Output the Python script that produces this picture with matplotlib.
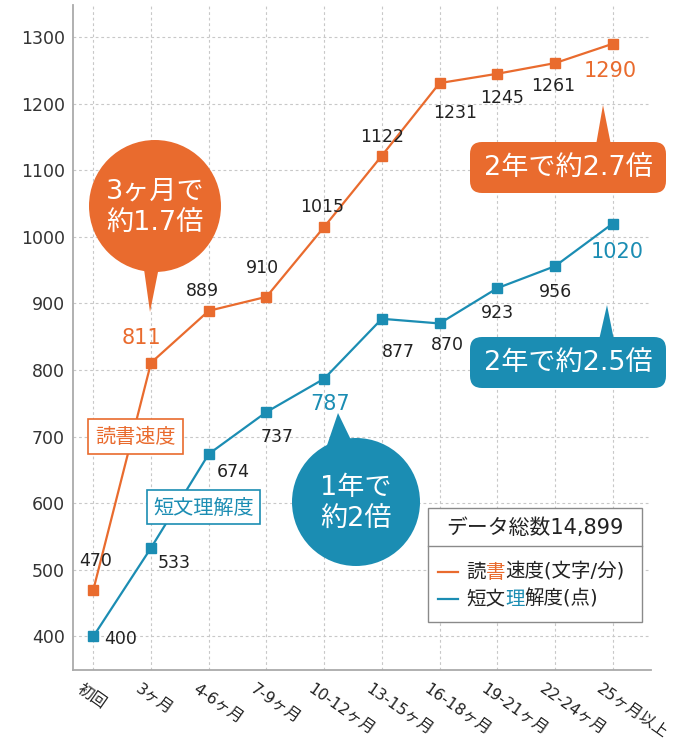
import matplotlib
matplotlib.use("Agg")
import matplotlib.pyplot as plt
import matplotlib.transforms as mtransforms
from matplotlib.patches import Circle, FancyBboxPatch, Polygon, Rectangle

# 数字はDejaVu、日本語はNoto CJKへフォールバック
plt.rcParams['font.family'] = ['DejaVu Sans', 'Noto Sans CJK JP']

# データ
periods = ['初回', '3ヶ月', '4-6ヶ月', '7-9ヶ月', '10-12ヶ月', '13-15ヶ月',
           '16-18ヶ月', '19-21ヶ月', '22-24ヶ月', '25ヶ月以上']
speed = [470, 811, 889, 910, 1015, 1122, 1231, 1245, 1261, 1290]
comprehension = [400, 533, 674, 737, 787, 877, 870, 923, 956, 1020]
yticks = [400, 500, 600, 700, 800, 900, 1000, 1100, 1200, 1300]
total_label = 'データ総数14,899'

ORANGE = '#e96b2e'
BLUE = '#1b8db3'
DARK = '#222222'

fig = plt.figure(figsize=(6.9, 7.4), dpi=100)
ax = fig.add_axes([0.106, 0.095, 0.838, 0.898])

x = list(range(len(periods)))
ax.plot(x, speed, color=ORANGE, lw=1.6, marker='s', ms=6.5, zorder=3)
ax.plot(x, comprehension, color=BLUE, lw=1.6, marker='s', ms=6.5, zorder=3)

ax.set_xlim(-0.35, 9.67)
ax.set_ylim(350, 1348)
ax.set_xticks(x)
ax.set_xticklabels(periods, rotation=-35, ha='left', va='top',
                   rotation_mode='anchor', fontsize=11.3, color=DARK)
ax.set_yticks(yticks)
ax.set_yticklabels([str(v) for v in yticks], fontsize=12.5, color='#333333')
ax.tick_params(length=0, pad=6)
ax.tick_params(axis='x', pad=8)
shift = mtransforms.ScaledTranslation(-0.1, 0, fig.dpi_scale_trans)
for lbl in ax.get_xticklabels():
    lbl.set_transform(lbl.get_transform() + shift)
ax.grid(True, color='#c8c8c8', lw=0.8, ls=(0, (2.5, 2.5)))
ax.set_axisbelow(True)
for s in ['top', 'right']:
    ax.spines[s].set_visible(False)
for s in ['left', 'bottom']:
    ax.spines[s].set_color('#aaaaaa')
    ax.spines[s].set_linewidth(1.3)

# 数値ラベル (オフセットはピクセル)
speed_off = [(2, 29), (-10, 25), (-6, 20), (-4, 29), (-2, 20), (0, 19),
             (16, -30), (5, -24), (-2, -23), (-2, -27)]
comp_off = [(27, -3), (23, -15), (24, -18), (11, -25), (6, -25), (17, -33),
            (8, -22), (0, -25), (1, -26), (4, -28)]
big_speed = {1, 9}
big_comp = {4, 9}
for i, v in enumerate(speed):
    big = i in big_speed
    ax.annotate(str(v), (i, v), xytext=speed_off[i], textcoords='offset pixels',
                ha='center', va='center', fontsize=15 if big else 12.5,
                color=ORANGE if big else DARK, zorder=5)
for i, v in enumerate(comprehension):
    big = i in big_comp
    ax.annotate(str(v), (i, v), xytext=comp_off[i], textcoords='offset pixels',
                ha='center', va='center', fontsize=15 if big else 12.5,
                color=BLUE if big else DARK, zorder=5)

# 吹き出しなど (ピクセル座標のオーバーレイ)
ov = fig.add_axes([0, 0, 1, 1], facecolor='none')
ov.set_xlim(0, 690)
ov.set_ylim(740, 0)
ov.axis('off')


def bubble_circle(cx, cy, r, tri, color, text):
    ov.add_patch(Polygon(tri, closed=True, color=color, lw=0, zorder=6))
    ov.add_patch(Circle((cx, cy), r, color=color, lw=0, zorder=6))
    ov.text(cx, cy + 2, text, ha='center', va='center', color='white',
            fontsize=19.5, linespacing=1.3, zorder=7)


def bubble_box(x0, y0, x1, y1, tri, color, text):
    ov.add_patch(Polygon(tri, closed=True, color=color, lw=0, zorder=6))
    ov.add_patch(FancyBboxPatch((x0, y0), x1 - x0, y1 - y0,
                                boxstyle='round,pad=0,rounding_size=12',
                                color=color, lw=0, zorder=6))
    ov.text((x0 + x1) / 2, (y0 + y1) / 2 + 1, text, ha='center', va='center',
            color='white', fontsize=19.5, zorder=7)


bubble_circle(155, 206, 66, [(143, 262), (160, 262), (150, 312)], ORANGE,
              '3ヶ月で\n約1.7倍')
bubble_circle(356, 502, 64, [(322, 460), (352, 442), (338, 413)], BLUE,
              '1年で\n約2倍')
bubble_box(470, 142, 666, 193, [(596, 145), (611, 145), (603, 105)], ORANGE,
           '2年で約2.7倍')
bubble_box(470, 337, 666, 388, [(599, 340), (614, 340), (607, 305)], BLUE,
           '2年で約2.5倍')


def tag(x0, y0, x1, y1, color, text):
    ov.add_patch(Rectangle((x0, y0), x1 - x0, y1 - y0, facecolor='white',
                           edgecolor=color, lw=1.2, zorder=6))
    ov.text((x0 + x1) / 2, (y0 + y1) / 2 + 1, text, ha='center', va='center',
            color=color, fontsize=14.5, zorder=7)


tag(88, 419, 183, 454, ORANGE, '読書速度')
tag(147, 490, 260, 524, BLUE, '短文理解度')

# 凡例
ov.add_patch(Rectangle((428, 508), 214, 114, facecolor='white',
                       edgecolor='#8a8a8a', lw=1.0, zorder=6))
ov.plot([428, 642], [546, 546], color='#8a8a8a', lw=1.0, zorder=7)
ov.text(535, 528, total_label, ha='center', va='center', fontsize=15,
        color=DARK, zorder=7)


def legend_row(y, color, parts):
    ov.plot([438, 458], [y, y], color=color, lw=1.6, zorder=7)
    prev = ov.text(466, y, parts[0], ha='left', va='center', fontsize=14,
                   color=DARK, zorder=7)
    for txt, c in zip(parts[1:], [color, DARK]):
        prev = ov.annotate(txt, xy=(1, 0), xycoords=prev, ha='left', va='bottom',
                           fontsize=14, color=c, zorder=7)


legend_row(572, ORANGE, ['読', '書', '速度(文字/分)'])
legend_row(599, BLUE, ['短文', '理', '解度(点)'])

fig.savefig('out.png', dpi=100)
